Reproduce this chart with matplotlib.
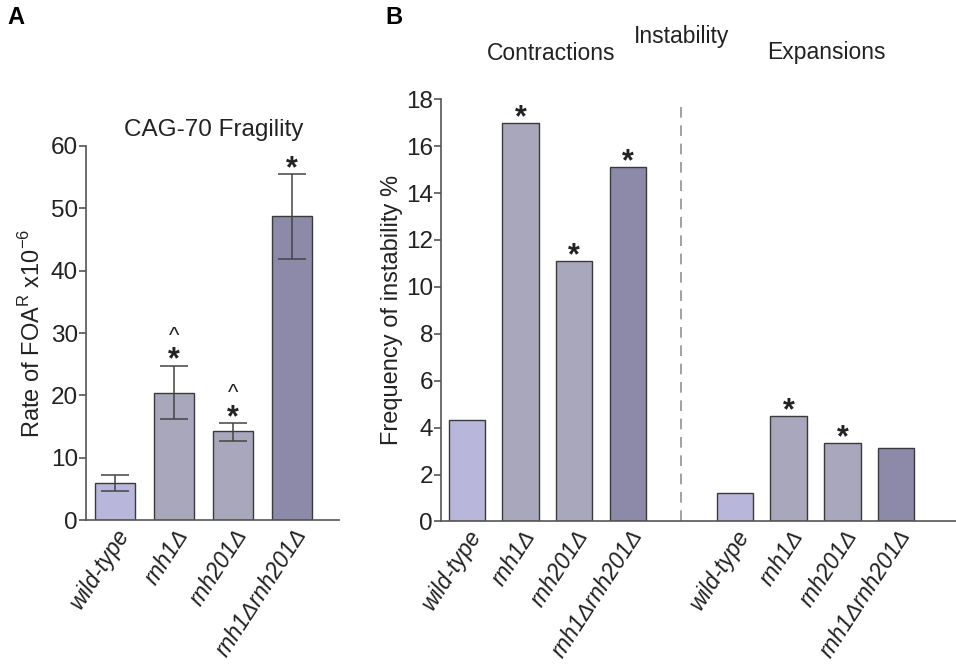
import matplotlib
matplotlib.use('Agg')
import matplotlib.pyplot as plt
import numpy as np

plt.rcParams['font.family'] = ['Liberation Sans', 'DejaVu Sans']

# data
strains = ['wild-type', 'rnh1Δ', 'rnh201Δ', 'rnh1Δrnh201Δ']
colors = ['#b8b6da', '#a9a7bb', '#a9a7bb', '#8d89a8']

frag_rate = [6.0, 20.4, 14.3, 48.7]
frag_err_hi = [7.3, 24.8, 15.6, 55.5]
frag_err_lo = [4.7, 16.3, 12.7, 41.8]
frag_star = [False, True, True, True]
frag_caret = [False, True, True, False]

contractions = [4.33, 17.0, 11.1, 15.1]
expansions = [1.2, 4.5, 3.35, 3.15]
contr_star = [False, True, True, True]
expan_star = [False, True, True, False]

edge = '#3a3a3a'
axcol = '#555555'
txt = '#222222'

fig = plt.figure(figsize=(9.56, 6.65), dpi=100)

def style(ax):
    for s in ['top', 'right']:
        ax.spines[s].set_visible(False)
    for s in ['left', 'bottom']:
        ax.spines[s].set_color(axcol)
        ax.spines[s].set_linewidth(1.2)
    ax.tick_params(axis='y', direction='out', length=5, width=1.2, color=axcol,
                   labelsize=17.5, labelcolor=txt, pad=0.5)
    ax.tick_params(axis='x', length=0, pad=3)

def star(ax, x, y):
    ax.annotate('*', (x, y), xytext=(0, 3.5), textcoords='offset points',
                ha='center', va='center', fontsize=22, fontweight='bold', color=txt)

# ---- Panel A
axA = fig.add_axes([85.7/956, 1-520.4/665, (339-85.7)/956, (520.4-145.7)/665])
x = np.arange(len(strains))
yerr = [np.array(frag_rate) - np.array(frag_err_lo), np.array(frag_err_hi) - np.array(frag_rate)]
axA.bar(x, frag_rate, width=0.68, color=colors, edgecolor=edge, linewidth=1.0, zorder=2)
axA.errorbar(x, frag_rate, yerr=yerr, fmt='none', ecolor='#444444', elinewidth=1.1,
             capsize=10, capthick=1.1, zorder=3)
axA.set_ylim(0, 60)
axA.set_xlim(-0.49, 3.79)
axA.set_yticks(range(0, 61, 10))
axA.set_xticks(x)
axA.set_xticklabels(strains, rotation=57, ha='right', rotation_mode='anchor',
                    fontsize=16.5, style='italic', color=txt)
axA.set_ylabel('Rate of FOA$^\\mathregular{R}$ x10$^\\mathregular{-6}$', fontsize=17,
               color=txt, labelpad=4)
style(axA)
for i in range(len(strains)):
    if frag_star[i]:
        star(axA, x[i], frag_err_hi[i])
    if frag_caret[i]:
        axA.annotate('^', (x[i], frag_err_hi[i]), xytext=(0, 21), textcoords='offset points',
                     ha='center', va='center', fontsize=16, color=txt)
fig.text(214/956, 1-130/665, 'CAG-70 Fragility', ha='center', va='center', fontsize=17.5,
         color=txt)

# ---- Panel B
axB = fig.add_axes([440.7/956, 1-521.4/665, (956-440.7)/956, (521.4-99.3)/665])
xc = np.arange(4)
xe = np.arange(4) + 5
axB.bar(xc, contractions, width=0.68, color=colors, edgecolor=edge, linewidth=1.0, zorder=2)
axB.bar(xe, expansions, width=0.68, color=colors, edgecolor=edge, linewidth=1.0, zorder=2)
axB.axvline(4, ymin=0, ymax=0.995, color='#888888', linestyle=(0, (7, 5)), linewidth=1.1)
axB.set_ylim(0, 18)
axB.set_xlim(-0.49, 9.12)
axB.set_yticks(range(0, 19, 2))
axB.set_xticks(np.concatenate([xc, xe]))
axB.set_xticklabels(strains + strains, rotation=57, ha='right', rotation_mode='anchor',
                    fontsize=16.5, style='italic', color=txt)
axB.set_ylabel('Frequency of instability %', fontsize=17, color=txt, labelpad=2)
style(axB)
for xs, vals, stars in [(xc, contractions, contr_star), (xe, expansions, expan_star)]:
    for i in range(4):
        if stars[i]:
            star(axB, xs[i], vals[i])

fig.text(551/956, 1-53/665, 'Contractions', ha='center', va='center', fontsize=16.5, color=txt)
fig.text(682/956, 1-36/665, 'Instability', ha='center', va='center', fontsize=16.5, color=txt)
fig.text(826/956, 1-53/665, 'Expansions', ha='center', va='center', fontsize=16.5, color=txt)

fig.text(7/956, 1-17/665, 'A', ha='left', va='center', fontsize=17, fontweight='bold')
fig.text(385/956, 1-17/665, 'B', ha='left', va='center', fontsize=17, fontweight='bold')

fig.savefig('out.png', dpi=100)
